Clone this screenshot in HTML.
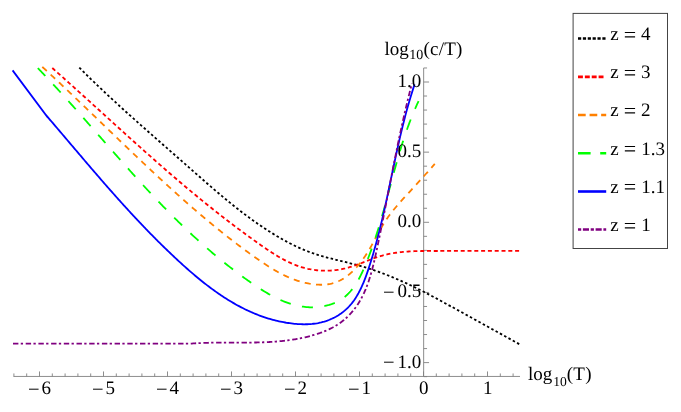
<!DOCTYPE html>
<html><head><meta charset="utf-8"><title>plot</title>
<style>html,body{margin:0;padding:0;background:#fff;}body{width:681px;height:412px;position:relative;overflow:hidden;font-family:"Liberation Serif",serif;}</style>
</head><body>
<svg width="681" height="412" viewBox="0 0 681 412" style="position:absolute;left:0;top:0">
<g stroke="#808080" stroke-width="0.9" fill="none">
<line x1="13.5" y1="376.45" x2="520" y2="376.45"/>
<line x1="423.65" y1="67.97" x2="423.65" y2="376.45"/>
<line x1="13.90" y1="376.45" x2="13.90" y2="373.45"/>
<line x1="26.70" y1="376.45" x2="26.70" y2="373.45"/>
<line x1="39.50" y1="376.45" x2="39.50" y2="371.45"/>
<line x1="52.30" y1="376.45" x2="52.30" y2="373.45"/>
<line x1="65.10" y1="376.45" x2="65.10" y2="373.45"/>
<line x1="77.90" y1="376.45" x2="77.90" y2="373.45"/>
<line x1="90.70" y1="376.45" x2="90.70" y2="373.45"/>
<line x1="103.50" y1="376.45" x2="103.50" y2="371.45"/>
<line x1="116.30" y1="376.45" x2="116.30" y2="373.45"/>
<line x1="129.10" y1="376.45" x2="129.10" y2="373.45"/>
<line x1="141.90" y1="376.45" x2="141.90" y2="373.45"/>
<line x1="154.70" y1="376.45" x2="154.70" y2="373.45"/>
<line x1="167.50" y1="376.45" x2="167.50" y2="371.45"/>
<line x1="180.30" y1="376.45" x2="180.30" y2="373.45"/>
<line x1="193.10" y1="376.45" x2="193.10" y2="373.45"/>
<line x1="205.90" y1="376.45" x2="205.90" y2="373.45"/>
<line x1="218.70" y1="376.45" x2="218.70" y2="373.45"/>
<line x1="231.50" y1="376.45" x2="231.50" y2="371.45"/>
<line x1="244.30" y1="376.45" x2="244.30" y2="373.45"/>
<line x1="257.10" y1="376.45" x2="257.10" y2="373.45"/>
<line x1="269.90" y1="376.45" x2="269.90" y2="373.45"/>
<line x1="282.70" y1="376.45" x2="282.70" y2="373.45"/>
<line x1="295.50" y1="376.45" x2="295.50" y2="371.45"/>
<line x1="308.30" y1="376.45" x2="308.30" y2="373.45"/>
<line x1="321.10" y1="376.45" x2="321.10" y2="373.45"/>
<line x1="333.90" y1="376.45" x2="333.90" y2="373.45"/>
<line x1="346.70" y1="376.45" x2="346.70" y2="373.45"/>
<line x1="359.50" y1="376.45" x2="359.50" y2="371.45"/>
<line x1="372.30" y1="376.45" x2="372.30" y2="373.45"/>
<line x1="385.10" y1="376.45" x2="385.10" y2="373.45"/>
<line x1="397.90" y1="376.45" x2="397.90" y2="373.45"/>
<line x1="410.70" y1="376.45" x2="410.70" y2="373.45"/>
<line x1="423.50" y1="376.45" x2="423.50" y2="371.45"/>
<line x1="436.30" y1="376.45" x2="436.30" y2="373.45"/>
<line x1="449.10" y1="376.45" x2="449.10" y2="373.45"/>
<line x1="461.90" y1="376.45" x2="461.90" y2="373.45"/>
<line x1="474.70" y1="376.45" x2="474.70" y2="373.45"/>
<line x1="487.50" y1="376.45" x2="487.50" y2="371.45"/>
<line x1="500.30" y1="376.45" x2="500.30" y2="373.45"/>
<line x1="513.10" y1="376.45" x2="513.10" y2="373.45"/>
<line x1="423.65" y1="376.63" x2="427.05" y2="376.63"/>
<line x1="423.65" y1="362.60" x2="429.05" y2="362.60"/>
<line x1="423.65" y1="348.57" x2="427.05" y2="348.57"/>
<line x1="423.65" y1="334.54" x2="427.05" y2="334.54"/>
<line x1="423.65" y1="320.51" x2="427.05" y2="320.51"/>
<line x1="423.65" y1="306.48" x2="427.05" y2="306.48"/>
<line x1="423.65" y1="292.45" x2="429.05" y2="292.45"/>
<line x1="423.65" y1="278.42" x2="427.05" y2="278.42"/>
<line x1="423.65" y1="264.39" x2="427.05" y2="264.39"/>
<line x1="423.65" y1="250.36" x2="427.05" y2="250.36"/>
<line x1="423.65" y1="236.33" x2="427.05" y2="236.33"/>
<line x1="423.65" y1="222.30" x2="429.05" y2="222.30"/>
<line x1="423.65" y1="208.27" x2="427.05" y2="208.27"/>
<line x1="423.65" y1="194.24" x2="427.05" y2="194.24"/>
<line x1="423.65" y1="180.21" x2="427.05" y2="180.21"/>
<line x1="423.65" y1="166.18" x2="427.05" y2="166.18"/>
<line x1="423.65" y1="152.15" x2="429.05" y2="152.15"/>
<line x1="423.65" y1="138.12" x2="427.05" y2="138.12"/>
<line x1="423.65" y1="124.09" x2="427.05" y2="124.09"/>
<line x1="423.65" y1="110.06" x2="427.05" y2="110.06"/>
<line x1="423.65" y1="96.03" x2="427.05" y2="96.03"/>
<line x1="423.65" y1="82.00" x2="429.05" y2="82.00"/>
<line x1="423.65" y1="67.97" x2="427.05" y2="67.97"/>
</g>
<path d="M79.30 67.59 L80.11 68.40 L80.91 69.21 L81.72 70.01 L82.52 70.81 L83.33 71.62 L84.14 72.42 L84.94 73.22 L85.75 74.02 L86.56 74.81 L87.37 75.61 L88.18 76.40 L88.99 77.20 L89.80 77.99 L90.61 78.78 L91.42 79.57 L92.23 80.35 L93.04 81.14 L93.86 81.93 L94.67 82.71 L95.48 83.49 L96.30 84.27 L97.11 85.05 L97.93 85.83 L98.74 86.61 L99.56 87.39 L100.37 88.16 L101.19 88.94 L102.01 89.71 L102.83 90.48 L103.64 91.25 L104.46 92.02 L105.28 92.79 L106.10 93.56 L106.92 94.33 L107.74 95.09 L108.56 95.86 L109.38 96.62 L110.20 97.38 L111.02 98.15 L111.84 98.91 L112.67 99.67 L113.49 100.43 L114.31 101.18 L115.13 101.94 L115.96 102.70 L116.78 103.45 L117.61 104.21 L118.43 104.96 L119.26 105.72 L120.08 106.47 L120.91 107.22 L121.73 107.97 L122.56 108.72 L123.39 109.47 L124.21 110.22 L125.04 110.97 L125.87 111.72 L126.70 112.47 L127.52 113.21 L128.35 113.96 L129.18 114.71 L130.01 115.45 L130.84 116.19 L131.67 116.94 L132.50 117.68 L133.33 118.42 L134.16 119.17 L134.99 119.91 L135.82 120.65 L136.65 121.39 L137.49 122.13 L138.32 122.87 L139.15 123.61 L139.98 124.35 L140.82 125.09 L141.65 125.83 L142.48 126.57 L143.32 127.30 L144.15 128.04 L144.98 128.78 L145.82 129.52 L146.65 130.25 L147.49 130.99 L148.32 131.72 L149.16 132.46 L149.99 133.20 L150.83 133.93 L151.66 134.67 L152.50 135.40 L153.34 136.14 L154.17 136.87 L155.01 137.61 L155.85 138.34 L156.68 139.08 L157.52 139.81 L158.36 140.55 L159.19 141.28 L160.03 142.02 L160.87 142.75 L161.71 143.49 L162.55 144.22 L163.38 144.96 L164.22 145.69 L165.06 146.43 L165.90 147.16 L166.74 147.90 L167.58 148.63 L168.42 149.37 L169.26 150.10 L170.10 150.84 L170.94 151.58 L171.78 152.31 L172.62 153.05 L173.46 153.79 L174.30 154.52 L175.14 155.26 L175.98 156.00 L176.82 156.74 L177.66 157.48 L178.50 158.21 L179.34 158.95 L180.18 159.69 L181.02 160.43 L181.86 161.17 L182.71 161.91 L183.55 162.65 L184.39 163.40 L185.23 164.14 L186.07 164.88 L186.91 165.62 L187.75 166.37 L188.60 167.11 L189.44 167.85 L190.28 168.60 L191.12 169.34 L191.97 170.09 L192.81 170.83 L193.65 171.58 L194.50 172.32 L195.34 173.07 L196.18 173.81 L197.03 174.55 L197.87 175.30 L198.72 176.04 L199.56 176.79 L200.41 177.53 L201.26 178.28 L202.10 179.02 L202.95 179.76 L203.80 180.50 L204.65 181.25 L205.50 181.99 L206.35 182.73 L207.20 183.47 L208.05 184.21 L208.90 184.95 L209.75 185.69 L210.60 186.43 L211.46 187.16 L212.31 187.90 L213.17 188.63 L214.02 189.37 L214.88 190.10 L215.74 190.84 L216.60 191.57 L217.46 192.30 L218.32 193.03 L219.18 193.76 L220.04 194.48 L220.90 195.21 L221.76 195.93 L222.63 196.66 L223.50 197.38 L224.36 198.10 L225.23 198.82 L226.10 199.54 L226.97 200.25 L227.84 200.97 L228.71 201.68 L229.58 202.39 L230.46 203.10 L231.33 203.81 L232.21 204.52 L233.09 205.22 L233.97 205.93 L234.85 206.63 L235.73 207.33 L236.61 208.03 L237.50 208.72 L238.38 209.41 L239.27 210.11 L240.16 210.80 L241.05 211.48 L241.94 212.17 L242.83 212.85 L243.73 213.53 L244.62 214.21 L245.52 214.89 L246.42 215.56 L247.32 216.23 L248.22 216.90 L249.12 217.56 L250.03 218.23 L250.94 218.89 L251.84 219.55 L252.75 220.20 L253.66 220.86 L254.58 221.51 L255.49 222.15 L256.41 222.80 L257.33 223.44 L258.25 224.08 L259.17 224.72 L260.10 225.35 L261.02 225.98 L261.95 226.61 L262.88 227.23 L263.81 227.85 L264.74 228.47 L265.68 229.08 L266.62 229.69 L267.56 230.30 L268.50 230.91 L269.44 231.51 L270.39 232.10 L271.33 232.70 L272.28 233.29 L273.24 233.88 L274.19 234.46 L275.15 235.04 L276.10 235.61 L277.06 236.19 L278.03 236.76 L278.99 237.32 L279.96 237.88 L280.93 238.44 L281.90 238.99 L282.88 239.54 L283.85 240.08 L284.83 240.62 L285.81 241.15 L286.80 241.68 L287.78 242.21 L288.77 242.73 L289.76 243.24 L290.76 243.75 L291.75 244.25 L292.75 244.75 L293.76 245.24 L294.76 245.73 L295.77 246.21 L296.78 246.69 L297.79 247.15 L298.80 247.62 L299.82 248.07 L300.84 248.52 L301.87 248.97 L302.89 249.40 L303.92 249.83 L304.96 250.26 L305.99 250.67 L307.03 251.08 L308.07 251.49 L309.11 251.88 L310.16 252.27 L311.21 252.65 L312.26 253.02 L313.32 253.39 L314.38 253.75 L315.44 254.10 L316.51 254.44 L317.57 254.78 L318.64 255.11 L319.72 255.44 L320.79 255.76 L321.87 256.07 L322.95 256.38 L324.03 256.68 L325.11 256.99 L326.19 257.28 L327.28 257.57 L328.36 257.86 L329.45 258.15 L330.54 258.43 L331.63 258.71 L332.73 258.99 L333.82 259.26 L334.91 259.53 L336.01 259.80 L337.10 260.07 L338.20 260.34 L339.29 260.61 L340.39 260.87 L341.49 261.14 L342.58 261.41 L343.68 261.67 L344.77 261.94 L345.87 262.21 L346.97 262.48 L348.06 262.75 L349.16 263.02 L350.25 263.29 L351.34 263.57 L352.43 263.85 L353.53 264.13 L354.62 264.41 L355.70 264.70 L356.79 264.99 L357.88 265.28 L358.96 265.58 L360.04 265.88 L361.12 266.19 L362.20 266.50 L363.28 266.82 L364.35 267.14 L365.43 267.46 L366.50 267.79 L367.57 268.13 L368.64 268.47 L369.70 268.81 L370.77 269.16 L371.83 269.51 L372.89 269.86 L373.95 270.22 L375.01 270.59 L376.07 270.95 L377.12 271.32 L378.18 271.70 L379.23 272.08 L380.28 272.46 L381.33 272.85 L382.38 273.24 L383.42 273.64 L384.47 274.03 L385.51 274.44 L386.55 274.84 L387.59 275.25 L388.63 275.66 L389.67 276.08 L390.71 276.50 L391.74 276.92 L392.77 277.35 L393.81 277.78 L394.84 278.21 L395.87 278.65 L396.90 279.09 L397.92 279.53 L398.95 279.98 L399.97 280.43 L401.00 280.88 L402.02 281.34 L403.04 281.79 L404.06 282.26 L405.08 282.72 L406.09 283.19 L407.11 283.66 L408.13 284.13 L409.14 284.61 L410.15 285.08 L411.16 285.56 L412.18 286.05 L413.19 286.53 L414.19 287.02 L415.20 287.51 L416.21 288.01 L417.21 288.50 L418.22 289.00 L419.22 289.50 L420.23 290.00 L421.23 290.51 L422.23 291.02 L423.23 291.53 L424.23 292.04 L425.23 292.55 L426.23 293.07 L427.22 293.58 L428.22 294.10 L429.21 294.62 L430.21 295.15 L431.20 295.67 L432.20 296.20 L433.19 296.73 L434.18 297.26 L435.17 297.79 L436.16 298.33 L437.15 298.86 L438.14 299.40 L439.13 299.94 L440.12 300.48 L441.10 301.02 L442.09 301.56 L443.08 302.10 L444.06 302.65 L445.05 303.20 L446.03 303.74 L447.01 304.29 L448.00 304.84 L448.98 305.40 L449.96 305.95 L450.00 305.80 L520.10 344.60" fill="none" stroke="#000000" stroke-width="1.8" stroke-dasharray="2.5 2.4"/>
<path d="M52.29 68.02 L53.15 68.78 L54.01 69.54 L54.87 70.30 L55.73 71.06 L56.59 71.82 L57.45 72.59 L58.31 73.35 L59.17 74.11 L60.03 74.88 L60.89 75.64 L61.75 76.41 L62.61 77.18 L63.47 77.94 L64.33 78.71 L65.18 79.48 L66.04 80.25 L66.90 81.02 L67.76 81.79 L68.62 82.56 L69.48 83.33 L70.34 84.10 L71.20 84.87 L72.06 85.64 L72.92 86.42 L73.77 87.19 L74.63 87.96 L75.49 88.74 L76.35 89.51 L77.21 90.28 L78.07 91.06 L78.93 91.83 L79.79 92.61 L80.65 93.39 L81.50 94.16 L82.36 94.94 L83.22 95.72 L84.08 96.49 L84.94 97.27 L85.80 98.05 L86.66 98.83 L87.52 99.61 L88.38 100.38 L89.24 101.16 L90.10 101.94 L90.95 102.72 L91.81 103.50 L92.67 104.28 L93.53 105.06 L94.39 105.84 L95.25 106.62 L96.11 107.40 L96.97 108.18 L97.83 108.96 L98.69 109.75 L99.55 110.53 L100.41 111.31 L101.27 112.09 L102.13 112.87 L102.99 113.65 L103.85 114.43 L104.71 115.22 L105.57 116.00 L106.43 116.78 L107.29 117.56 L108.15 118.34 L109.01 119.12 L109.87 119.91 L110.73 120.69 L111.59 121.47 L112.46 122.25 L113.32 123.03 L114.18 123.81 L115.04 124.60 L115.90 125.38 L116.76 126.16 L117.62 126.94 L118.49 127.72 L119.35 128.50 L120.21 129.28 L121.07 130.06 L121.94 130.84 L122.80 131.62 L123.66 132.40 L124.52 133.18 L125.39 133.96 L126.25 134.74 L127.11 135.52 L127.98 136.30 L128.84 137.08 L129.70 137.86 L130.57 138.64 L131.43 139.42 L132.30 140.20 L133.16 140.97 L134.03 141.75 L134.89 142.53 L135.76 143.31 L136.62 144.08 L137.49 144.86 L138.35 145.63 L139.22 146.41 L140.08 147.18 L140.95 147.96 L141.82 148.73 L142.68 149.51 L143.55 150.28 L144.42 151.05 L145.28 151.83 L146.15 152.60 L147.02 153.37 L147.89 154.14 L148.75 154.91 L149.62 155.68 L150.49 156.45 L151.36 157.22 L152.23 157.99 L153.10 158.76 L153.97 159.53 L154.84 160.29 L155.71 161.06 L156.58 161.83 L157.45 162.59 L158.32 163.36 L159.19 164.12 L160.06 164.89 L160.93 165.65 L161.80 166.41 L162.68 167.17 L163.55 167.93 L164.42 168.69 L165.29 169.45 L166.17 170.21 L167.04 170.97 L167.91 171.73 L168.79 172.49 L169.66 173.24 L170.53 174.00 L171.41 174.75 L172.28 175.51 L173.16 176.26 L174.04 177.01 L174.91 177.77 L175.79 178.52 L176.66 179.27 L177.54 180.02 L178.42 180.77 L179.29 181.51 L180.17 182.26 L181.05 183.01 L181.93 183.75 L182.81 184.50 L183.69 185.24 L184.57 185.98 L185.45 186.72 L186.33 187.46 L187.21 188.20 L188.09 188.94 L188.97 189.68 L189.85 190.42 L190.73 191.15 L191.61 191.89 L192.50 192.62 L193.38 193.35 L194.26 194.09 L195.15 194.82 L196.03 195.55 L196.91 196.28 L197.80 197.01 L198.68 197.73 L199.57 198.46 L200.46 199.18 L201.34 199.91 L202.23 200.63 L203.12 201.36 L204.01 202.08 L204.90 202.80 L205.79 203.52 L206.68 204.24 L207.57 204.96 L208.47 205.67 L209.36 206.39 L210.25 207.11 L211.15 207.82 L212.04 208.54 L212.94 209.25 L213.84 209.96 L214.74 210.67 L215.64 211.39 L216.54 212.10 L217.44 212.81 L218.34 213.51 L219.24 214.22 L220.15 214.93 L221.05 215.64 L221.96 216.34 L222.87 217.05 L223.77 217.75 L224.68 218.45 L225.59 219.16 L226.51 219.86 L227.42 220.56 L228.33 221.26 L229.25 221.96 L230.16 222.66 L231.08 223.36 L232.00 224.06 L232.92 224.76 L233.84 225.45 L234.76 226.15 L235.69 226.84 L236.61 227.54 L237.54 228.23 L238.47 228.93 L239.40 229.62 L240.33 230.31 L241.26 231.00 L242.20 231.69 L243.13 232.39 L244.07 233.08 L245.01 233.76 L245.95 234.45 L246.89 235.14 L247.83 235.83 L248.78 236.52 L249.73 237.20 L250.68 237.89 L251.63 238.58 L252.58 239.26 L253.53 239.95 L254.49 240.63 L255.44 241.31 L256.40 242.00 L257.36 242.68 L258.33 243.36 L259.29 244.04 L260.26 244.72 L261.22 245.40 L262.19 246.08 L263.17 246.76 L264.14 247.43 L265.12 248.10 L266.10 248.77 L267.08 249.43 L268.06 250.09 L269.05 250.75 L270.04 251.40 L271.03 252.05 L272.02 252.69 L273.02 253.32 L274.02 253.95 L275.02 254.58 L276.02 255.19 L277.03 255.80 L278.04 256.41 L279.06 257.00 L280.07 257.59 L281.09 258.16 L282.12 258.73 L283.14 259.29 L284.17 259.84 L285.21 260.38 L286.24 260.91 L287.28 261.43 L288.33 261.94 L289.37 262.43 L290.42 262.92 L291.48 263.39 L292.54 263.85 L293.60 264.29 L294.66 264.73 L295.73 265.15 L296.81 265.55 L297.89 265.94 L298.97 266.32 L300.05 266.68 L301.14 267.03 L302.24 267.36 L303.34 267.67 L304.44 267.97 L305.55 268.26 L306.65 268.52 L307.77 268.78 L308.88 269.01 L310.00 269.24 L311.12 269.44 L312.24 269.63 L313.37 269.81 L314.50 269.97 L315.63 270.11 L316.76 270.24 L317.89 270.36 L319.03 270.45 L320.16 270.54 L321.30 270.60 L322.44 270.65 L323.58 270.69 L324.72 270.71 L325.86 270.71 L327.00 270.70 L328.14 270.68 L329.28 270.63 L330.42 270.58 L331.55 270.50 L332.69 270.41 L333.83 270.31 L334.97 270.19 L336.11 270.05 L337.24 269.90 L338.37 269.74 L339.50 269.55 L340.63 269.36 L341.76 269.14 L342.89 268.91 L344.01 268.67 L345.13 268.41 L346.25 268.13 L347.37 267.84 L348.48 267.54 L349.59 267.21 L350.70 266.88 L351.80 266.53 L352.90 266.17 L354.00 265.80 L355.10 265.41 L356.20 265.02 L357.29 264.62 L358.38 264.22 L359.48 263.81 L360.57 263.39 L361.66 262.97 L362.75 262.54 L363.84 262.12 L364.92 261.69 L366.01 261.26 L367.10 260.84 L368.19 260.41 L369.28 259.99 L370.37 259.57 L371.47 259.16 L372.56 258.76 L373.65 258.36 L374.75 257.96 L375.85 257.58 L376.95 257.21 L378.05 256.85 L379.15 256.50 L380.26 256.16 L381.37 255.84 L382.48 255.53 L383.59 255.23 L384.71 254.95 L385.83 254.67 L386.95 254.42 L388.08 254.17 L389.20 253.94 L390.33 253.71 L391.46 253.50 L392.60 253.30 L393.73 253.11 L394.87 252.93 L396.01 252.76 L397.15 252.60 L398.29 252.45 L399.43 252.31 L400.58 252.18 L401.73 252.05 L402.87 251.94 L404.02 251.83 L405.18 251.73 L406.33 251.64 L407.48 251.56 L408.64 251.48 L409.80 251.41 L410.95 251.35 L412.11 251.29 L413.27 251.24 L414.43 251.19 L415.59 251.15 L416.75 251.12 L417.92 251.09 L419.08 251.06 L420.24 251.04 L421.41 251.02 L422.57 251.00 L423.74 250.99 L424.90 250.98 L426.07 250.98 L427.24 250.97 L428.40 250.97 L429.57 250.97 L430.74 250.97 L431.90 250.98 L433.07 250.98 L434.23 250.99 L435.40 250.99 L436.56 251.00 L437.73 251.00 L438.89 251.01 L440.06 251.01 L440.00 250.80 L520.00 250.80" fill="none" stroke="#ff0000" stroke-width="1.8" stroke-dasharray="4.0 2.8"/>
<path d="M42.28 66.84 L43.25 67.73 L44.22 68.62 L45.19 69.51 L46.16 70.41 L47.12 71.30 L48.09 72.20 L49.06 73.10 L50.03 73.99 L50.99 74.89 L51.96 75.79 L52.93 76.69 L53.89 77.59 L54.86 78.50 L55.82 79.40 L56.79 80.30 L57.75 81.21 L58.72 82.11 L59.68 83.02 L60.65 83.93 L61.61 84.83 L62.57 85.74 L63.54 86.65 L64.50 87.56 L65.46 88.47 L66.42 89.38 L67.39 90.30 L68.35 91.21 L69.31 92.12 L70.27 93.03 L71.23 93.95 L72.19 94.86 L73.15 95.78 L74.12 96.69 L75.08 97.61 L76.04 98.53 L77.00 99.44 L77.96 100.36 L78.92 101.28 L79.88 102.20 L80.84 103.12 L81.80 104.04 L82.76 104.96 L83.72 105.88 L84.68 106.80 L85.63 107.72 L86.59 108.64 L87.55 109.56 L88.51 110.48 L89.47 111.41 L90.43 112.33 L91.39 113.25 L92.35 114.17 L93.31 115.10 L94.27 116.02 L95.23 116.94 L96.18 117.87 L97.14 118.79 L98.10 119.72 L99.06 120.64 L100.02 121.56 L100.98 122.49 L101.94 123.41 L102.90 124.34 L103.86 125.26 L104.82 126.19 L105.78 127.11 L106.74 128.04 L107.70 128.96 L108.66 129.89 L109.62 130.81 L110.58 131.73 L111.54 132.66 L112.50 133.58 L113.46 134.51 L114.42 135.43 L115.38 136.36 L116.34 137.28 L117.30 138.20 L118.26 139.13 L119.22 140.05 L120.19 140.98 L121.15 141.90 L122.11 142.82 L123.07 143.74 L124.03 144.67 L125.00 145.59 L125.96 146.51 L126.92 147.43 L127.89 148.35 L128.85 149.27 L129.82 150.20 L130.78 151.12 L131.74 152.04 L132.71 152.95 L133.68 153.87 L134.64 154.79 L135.61 155.71 L136.57 156.63 L137.54 157.55 L138.51 158.46 L139.47 159.38 L140.44 160.29 L141.41 161.21 L142.38 162.12 L143.35 163.04 L144.32 163.95 L145.29 164.86 L146.26 165.78 L147.23 166.69 L148.20 167.60 L149.17 168.51 L150.14 169.42 L151.11 170.33 L152.08 171.24 L153.06 172.15 L154.03 173.05 L155.00 173.96 L155.98 174.86 L156.95 175.77 L157.93 176.67 L158.91 177.58 L159.88 178.48 L160.86 179.38 L161.84 180.28 L162.81 181.18 L163.79 182.08 L164.77 182.98 L165.75 183.87 L166.73 184.77 L167.71 185.67 L168.69 186.56 L169.68 187.45 L170.66 188.35 L171.64 189.24 L172.63 190.13 L173.61 191.02 L174.60 191.91 L175.58 192.79 L176.57 193.68 L177.55 194.56 L178.54 195.45 L179.53 196.33 L180.52 197.21 L181.51 198.09 L182.50 198.97 L183.49 199.85 L184.48 200.73 L185.48 201.60 L186.47 202.48 L187.46 203.35 L188.46 204.22 L189.45 205.09 L190.45 205.96 L191.45 206.83 L192.44 207.70 L193.44 208.56 L194.44 209.43 L195.44 210.29 L196.44 211.15 L197.44 212.01 L198.45 212.87 L199.45 213.73 L200.45 214.59 L201.46 215.44 L202.46 216.29 L203.47 217.14 L204.48 217.99 L205.49 218.84 L206.50 219.69 L207.51 220.54 L208.52 221.38 L209.53 222.22 L210.54 223.06 L211.56 223.90 L212.58 224.74 L213.59 225.58 L214.61 226.41 L215.63 227.25 L216.65 228.08 L217.68 228.91 L218.70 229.74 L219.73 230.57 L220.75 231.39 L221.78 232.22 L222.81 233.04 L223.84 233.86 L224.87 234.68 L225.91 235.50 L226.95 236.32 L227.98 237.13 L229.02 237.95 L230.06 238.76 L231.11 239.57 L232.15 240.38 L233.20 241.19 L234.25 241.99 L235.30 242.80 L236.35 243.60 L237.40 244.40 L238.46 245.20 L239.52 246.00 L240.58 246.80 L241.64 247.59 L242.70 248.39 L243.77 249.18 L244.84 249.97 L245.91 250.76 L246.98 251.54 L248.06 252.33 L249.14 253.11 L250.22 253.90 L251.30 254.68 L252.38 255.45 L253.47 256.23 L254.56 257.01 L255.65 257.78 L256.75 258.55 L257.85 259.32 L258.95 260.09 L260.05 260.85 L261.16 261.61 L262.27 262.36 L263.38 263.11 L264.50 263.85 L265.62 264.59 L266.74 265.32 L267.87 266.04 L269.00 266.76 L270.14 267.47 L271.28 268.18 L272.43 268.87 L273.57 269.56 L274.73 270.23 L275.89 270.90 L277.05 271.56 L278.22 272.20 L279.39 272.84 L280.57 273.46 L281.76 274.07 L282.95 274.68 L284.14 275.26 L285.35 275.84 L286.55 276.40 L287.77 276.95 L288.99 277.48 L290.21 278.00 L291.44 278.50 L292.68 278.99 L293.93 279.47 L295.18 279.92 L296.44 280.36 L297.70 280.78 L298.98 281.19 L300.26 281.57 L301.54 281.94 L302.84 282.29 L304.14 282.62 L305.45 282.93 L306.77 283.22 L308.09 283.48 L309.41 283.73 L310.74 283.95 L312.07 284.14 L313.40 284.31 L314.73 284.46 L316.06 284.57 L317.39 284.66 L318.72 284.72 L320.04 284.75 L321.36 284.75 L322.67 284.72 L323.98 284.65 L325.28 284.55 L326.58 284.42 L327.86 284.26 L329.13 284.05 L330.39 283.81 L331.64 283.53 L332.88 283.22 L334.11 282.86 L335.31 282.47 L336.51 282.03 L337.69 281.55 L338.85 281.04 L340.00 280.49 L341.13 279.90 L342.25 279.28 L343.35 278.62 L344.44 277.93 L345.51 277.21 L346.57 276.46 L347.61 275.68 L348.64 274.87 L349.66 274.04 L350.66 273.17 L351.64 272.29 L352.61 271.37 L353.57 270.44 L354.51 269.48 L355.44 268.51 L356.36 267.51 L357.25 266.50 L358.14 265.46 L359.01 264.42 L359.87 263.35 L360.71 262.27 L361.54 261.18 L362.36 260.08 L363.16 258.97 L363.95 257.85 L364.72 256.72 L365.49 255.58 L366.23 254.43 L366.97 253.29 L367.69 252.13 L368.40 250.97 L369.09 249.82 L369.78 248.65 L370.45 247.49 L371.11 246.33 L371.77 245.16 L372.42 244.00 L373.06 242.83 L373.69 241.67 L374.32 240.50 L374.95 239.34 L375.57 238.17 L376.20 237.01 L376.82 235.85 L377.44 234.70 L378.07 233.54 L378.69 232.39 L379.32 231.25 L379.95 230.10 L380.59 228.97 L381.24 227.83 L381.89 226.70 L382.55 225.58 L383.22 224.46 L383.90 223.35 L384.60 222.24 L385.30 221.15 L386.02 220.06 L386.75 218.97 L387.49 217.90 L388.25 216.83 L389.02 215.77 L389.80 214.71 L390.60 213.66 L391.40 212.62 L392.22 211.58 L393.05 210.55 L393.88 209.52 L394.72 208.50 L395.57 207.48 L396.43 206.46 L397.30 205.45 L398.17 204.44 L399.05 203.44 L399.93 202.44 L400.82 201.44 L401.72 200.44 L402.61 199.45 L403.51 198.46 L404.41 197.47 L405.32 196.47 L406.22 195.49 L407.13 194.50 L408.04 193.51 L408.94 192.52 L409.85 191.53 L410.76 190.54 L411.66 189.55 L412.57 188.57 L413.47 187.58 L414.38 186.59 L415.28 185.60 L416.18 184.61 L417.09 183.63 L417.99 182.64 L418.89 181.65 L419.79 180.66 L420.68 179.68 L421.58 178.69 L422.47 177.70 L423.37 176.72 L424.26 175.73 L425.15 174.75 L426.03 173.76 L426.92 172.78 L427.80 171.79 L428.68 170.81 L429.56 169.82 L430.44 168.84 L431.31 167.86 L432.19 166.88 L433.05 165.89 L433.92 164.91 L434.78 163.93" fill="none" stroke="#ff8000" stroke-width="1.8" stroke-dasharray="6.1 5.3"/>
<path d="M37.79 68.02 L38.87 69.15 L39.95 70.28 L41.03 71.41 L42.10 72.54 L43.17 73.67 L44.24 74.80 L45.31 75.93 L46.38 77.06 L47.45 78.20 L48.51 79.34 L49.57 80.47 L50.63 81.61 L51.69 82.75 L52.75 83.89 L53.80 85.03 L54.86 86.17 L55.91 87.32 L56.96 88.46 L58.01 89.61 L59.06 90.75 L60.10 91.90 L61.15 93.04 L62.19 94.19 L63.23 95.34 L64.27 96.49 L65.31 97.64 L66.35 98.79 L67.39 99.94 L68.43 101.09 L69.46 102.25 L70.49 103.40 L71.53 104.55 L72.56 105.71 L73.59 106.86 L74.62 108.02 L75.65 109.17 L76.68 110.33 L77.70 111.48 L78.73 112.64 L79.75 113.80 L80.78 114.95 L81.80 116.11 L82.82 117.27 L83.85 118.43 L84.87 119.58 L85.89 120.74 L86.91 121.90 L87.93 123.06 L88.95 124.22 L89.97 125.38 L90.99 126.54 L92.00 127.69 L93.02 128.85 L94.04 130.01 L95.06 131.17 L96.07 132.33 L97.09 133.49 L98.11 134.65 L99.12 135.80 L100.14 136.96 L101.15 138.12 L102.17 139.28 L103.18 140.43 L104.20 141.59 L105.21 142.75 L106.23 143.90 L107.24 145.06 L108.26 146.22 L109.28 147.37 L110.29 148.53 L111.31 149.68 L112.32 150.84 L113.34 151.99 L114.36 153.14 L115.37 154.29 L116.39 155.45 L117.41 156.60 L118.43 157.75 L119.44 158.90 L120.46 160.05 L121.48 161.20 L122.50 162.35 L123.52 163.49 L124.54 164.64 L125.57 165.78 L126.59 166.93 L127.61 168.07 L128.64 169.22 L129.66 170.36 L130.69 171.50 L131.71 172.64 L132.74 173.78 L133.77 174.92 L134.80 176.06 L135.83 177.19 L136.86 178.33 L137.89 179.46 L138.92 180.60 L139.96 181.73 L140.99 182.86 L142.03 183.99 L143.06 185.12 L144.10 186.24 L145.14 187.37 L146.18 188.49 L147.23 189.62 L148.27 190.74 L149.32 191.86 L150.36 192.98 L151.41 194.10 L152.46 195.21 L153.51 196.33 L154.56 197.44 L155.62 198.56 L156.67 199.67 L157.73 200.77 L158.79 201.88 L159.85 202.99 L160.91 204.09 L161.98 205.19 L163.04 206.30 L164.11 207.39 L165.18 208.49 L166.25 209.59 L167.32 210.68 L168.40 211.77 L169.48 212.86 L170.56 213.95 L171.64 215.04 L172.72 216.12 L173.81 217.20 L174.89 218.29 L175.98 219.36 L177.08 220.44 L178.17 221.52 L179.27 222.59 L180.37 223.66 L181.47 224.73 L182.57 225.79 L183.68 226.86 L184.78 227.92 L185.90 228.98 L187.01 230.04 L188.12 231.09 L189.24 232.14 L190.36 233.20 L191.49 234.24 L192.61 235.29 L193.74 236.33 L194.88 237.37 L196.01 238.41 L197.15 239.45 L198.29 240.48 L199.43 241.51 L200.58 242.54 L201.72 243.57 L202.88 244.59 L204.03 245.61 L205.19 246.63 L206.35 247.65 L207.51 248.66 L208.68 249.67 L209.85 250.68 L211.02 251.69 L212.20 252.69 L213.38 253.69 L214.56 254.68 L215.75 255.68 L216.94 256.67 L218.13 257.66 L219.33 258.64 L220.53 259.62 L221.73 260.60 L222.94 261.58 L224.15 262.55 L225.36 263.52 L226.58 264.49 L227.80 265.45 L229.02 266.41 L230.25 267.37 L231.48 268.33 L232.72 269.28 L233.96 270.23 L235.20 271.17 L236.45 272.11 L237.70 273.05 L238.96 273.98 L240.21 274.92 L241.48 275.84 L242.74 276.77 L244.02 277.69 L245.29 278.61 L246.57 279.52 L247.85 280.43 L249.14 281.34 L250.43 282.25 L251.73 283.15 L253.03 284.04 L254.33 284.93 L255.64 285.82 L256.95 286.69 L258.27 287.56 L259.60 288.43 L260.92 289.28 L262.26 290.12 L263.59 290.95 L264.93 291.77 L266.28 292.58 L267.63 293.38 L268.99 294.16 L270.35 294.92 L271.72 295.67 L273.10 296.41 L274.47 297.13 L275.86 297.83 L277.25 298.51 L278.64 299.17 L280.05 299.81 L281.45 300.44 L282.87 301.04 L284.28 301.61 L285.71 302.17 L287.14 302.70 L288.58 303.20 L290.02 303.68 L291.47 304.14 L292.93 304.56 L294.39 304.96 L295.86 305.33 L297.33 305.67 L298.82 305.98 L300.31 306.26 L301.80 306.51 L303.30 306.72 L304.81 306.90 L306.33 307.05 L307.86 307.16 L309.39 307.24 L310.92 307.28 L312.47 307.28 L314.02 307.25 L315.57 307.18 L317.12 307.07 L318.67 306.92 L320.21 306.74 L321.75 306.51 L323.28 306.25 L324.81 305.95 L326.32 305.60 L327.82 305.22 L329.30 304.80 L330.77 304.33 L332.21 303.83 L333.64 303.29 L335.04 302.70 L336.42 302.07 L337.77 301.40 L339.10 300.69 L340.39 299.93 L341.65 299.13 L342.88 298.29 L344.07 297.41 L345.22 296.48 L346.34 295.52 L347.43 294.51 L348.49 293.47 L349.51 292.39 L350.51 291.28 L351.47 290.13 L352.41 288.96 L353.32 287.75 L354.21 286.52 L355.07 285.26 L355.90 283.97 L356.72 282.67 L357.51 281.34 L358.28 279.99 L359.03 278.62 L359.76 277.24 L360.48 275.84 L361.18 274.43 L361.86 273.00 L362.53 271.57 L363.18 270.13 L363.83 268.67 L364.46 267.22 L365.08 265.76 L365.69 264.29 L366.29 262.83 L366.89 261.36 L367.48 259.89 L368.06 258.43 L368.63 256.96 L369.19 255.49 L369.75 254.02 L370.30 252.55 L370.84 251.08 L371.38 249.60 L371.91 248.13 L372.44 246.66 L372.95 245.18 L373.46 243.71 L373.97 242.23 L374.47 240.75 L374.96 239.28 L375.45 237.80 L375.93 236.32 L376.41 234.84 L376.88 233.36 L377.35 231.88 L377.81 230.40 L378.27 228.92 L378.73 227.44 L379.18 225.96 L379.62 224.48 L380.06 223.00 L380.50 221.51 L380.94 220.03 L381.37 218.55 L381.79 217.07 L382.22 215.58 L382.64 214.10 L383.06 212.62 L383.47 211.13 L383.89 209.65 L384.30 208.16 L384.71 206.68 L385.11 205.20 L385.52 203.71 L385.92 202.23 L386.32 200.74 L386.72 199.26 L387.12 197.77 L387.52 196.29 L387.92 194.81 L388.31 193.32 L388.71 191.84 L389.10 190.35 L389.50 188.87 L389.89 187.39 L390.29 185.91 L390.68 184.42 L391.08 182.94 L391.47 181.46 L391.87 179.98 L392.26 178.49 L392.66 177.01 L393.06 175.53 L393.46 174.05 L393.86 172.57 L394.26 171.09 L394.67 169.61 L395.08 168.14 L395.48 166.66 L395.90 165.18 L396.31 163.70 L396.73 162.23 L397.14 160.75 L397.57 159.28 L397.99 157.80 L398.42 156.33 L398.85 154.86 L399.28 153.39 L399.72 151.91 L400.16 150.44 L400.61 148.97 L401.06 147.51 L401.51 146.04 L401.97 144.57 L402.43 143.10 L402.90 141.64 L403.37 140.17 L403.85 138.71 L404.33 137.25 L404.82 135.79 L405.32 134.33 L405.82 132.87 L406.32 131.41 L406.83 129.95 L407.35 128.50 L407.87 127.04 L408.40 125.59 L408.94 124.14 L409.48 122.68 L410.04 121.23 L410.59 119.79 L411.16 118.34 L411.73 116.89 L412.31 115.45 L412.90 114.00 L413.49 112.56 L414.10 111.12 L414.71 109.68 L415.33 108.24 L415.96 106.81 L416.60 105.37 L417.24 103.94 L417.90 102.51 L418.56 101.08" fill="none" stroke="#00ff00" stroke-width="1.8" stroke-dasharray="11 11.5"/>
<path d="M12.60 70.40 L46.30 115.50 L46.30 115.46 L47.34 116.67 L48.37 117.88 L49.40 119.08 L50.44 120.29 L51.47 121.49 L52.50 122.70 L53.52 123.90 L54.55 125.11 L55.58 126.31 L56.60 127.51 L57.62 128.71 L58.65 129.92 L59.67 131.12 L60.69 132.32 L61.71 133.52 L62.73 134.72 L63.75 135.92 L64.77 137.12 L65.78 138.31 L66.80 139.51 L67.82 140.71 L68.83 141.91 L69.85 143.10 L70.86 144.30 L71.88 145.49 L72.89 146.68 L73.90 147.88 L74.91 149.07 L75.93 150.26 L76.94 151.45 L77.95 152.64 L78.96 153.83 L79.97 155.02 L80.99 156.21 L82.00 157.40 L83.01 158.58 L84.02 159.77 L85.03 160.96 L86.04 162.14 L87.05 163.32 L88.06 164.51 L89.08 165.69 L90.09 166.87 L91.10 168.05 L92.11 169.23 L93.12 170.41 L94.14 171.58 L95.15 172.76 L96.16 173.94 L97.18 175.11 L98.19 176.28 L99.21 177.46 L100.22 178.63 L101.24 179.80 L102.26 180.97 L103.27 182.14 L104.29 183.31 L105.31 184.47 L106.33 185.64 L107.35 186.80 L108.37 187.97 L109.40 189.13 L110.42 190.29 L111.44 191.45 L112.47 192.61 L113.49 193.77 L114.52 194.93 L115.55 196.08 L116.58 197.24 L117.61 198.39 L118.64 199.55 L119.68 200.70 L120.71 201.85 L121.75 203.00 L122.78 204.14 L123.82 205.29 L124.86 206.44 L125.91 207.58 L126.95 208.72 L127.99 209.87 L129.04 211.01 L130.09 212.14 L131.14 213.28 L132.19 214.42 L133.24 215.55 L134.30 216.69 L135.35 217.82 L136.41 218.95 L137.47 220.08 L138.54 221.21 L139.60 222.34 L140.67 223.46 L141.73 224.58 L142.81 225.71 L143.88 226.83 L144.95 227.95 L146.03 229.07 L147.11 230.18 L148.19 231.30 L149.27 232.41 L150.36 233.52 L151.45 234.63 L152.54 235.74 L153.63 236.85 L154.73 237.96 L155.83 239.06 L156.93 240.16 L158.03 241.27 L159.14 242.37 L160.25 243.46 L161.36 244.56 L162.47 245.65 L163.59 246.75 L164.71 247.84 L165.83 248.93 L166.96 250.02 L168.09 251.10 L169.22 252.19 L170.35 253.27 L171.49 254.35 L172.63 255.43 L173.77 256.51 L174.92 257.59 L176.07 258.66 L177.22 259.73 L178.38 260.80 L179.54 261.87 L180.70 262.94 L181.87 264.00 L183.04 265.06 L184.21 266.11 L185.39 267.17 L186.57 268.22 L187.76 269.26 L188.94 270.31 L190.14 271.35 L191.33 272.38 L192.53 273.41 L193.73 274.43 L194.94 275.45 L196.15 276.47 L197.36 277.48 L198.58 278.49 L199.80 279.48 L201.03 280.48 L202.26 281.47 L203.50 282.45 L204.73 283.42 L205.98 284.39 L207.22 285.35 L208.48 286.31 L209.73 287.25 L210.99 288.19 L212.26 289.13 L213.53 290.05 L214.80 290.97 L216.08 291.88 L217.36 292.78 L218.65 293.67 L219.94 294.56 L221.24 295.43 L222.54 296.30 L223.84 297.15 L225.15 298.00 L226.47 298.84 L227.79 299.66 L229.12 300.48 L230.45 301.29 L231.78 302.09 L233.12 302.87 L234.47 303.65 L235.82 304.41 L237.18 305.17 L238.54 305.91 L239.90 306.64 L241.28 307.36 L242.65 308.07 L244.04 308.76 L245.42 309.44 L246.82 310.11 L248.22 310.77 L249.62 311.41 L251.03 312.05 L252.45 312.66 L253.87 313.27 L255.30 313.86 L256.73 314.44 L258.17 315.00 L259.61 315.55 L261.06 316.08 L262.52 316.60 L263.98 317.11 L265.45 317.60 L266.93 318.07 L268.41 318.53 L269.89 318.97 L271.39 319.40 L272.88 319.81 L274.39 320.21 L275.90 320.59 L277.42 320.95 L278.94 321.29 L280.47 321.62 L282.01 321.93 L283.55 322.23 L285.10 322.51 L286.66 322.77 L288.22 323.01 L289.79 323.23 L291.37 323.43 L292.95 323.62 L294.54 323.78 L296.13 323.93 L297.73 324.05 L299.32 324.14 L300.92 324.21 L302.52 324.26 L304.11 324.28 L305.71 324.27 L307.30 324.23 L308.89 324.16 L310.48 324.05 L312.06 323.92 L313.63 323.75 L315.20 323.55 L316.76 323.31 L318.31 323.03 L319.85 322.71 L321.38 322.36 L322.90 321.96 L324.40 321.53 L325.90 321.06 L327.37 320.55 L328.83 320.00 L330.27 319.42 L331.70 318.80 L333.10 318.14 L334.48 317.45 L335.84 316.72 L337.18 315.95 L338.49 315.16 L339.78 314.32 L341.04 313.46 L342.27 312.56 L343.47 311.63 L344.64 310.67 L345.78 309.67 L346.89 308.65 L347.96 307.59 L349.00 306.51 L350.01 305.39 L351.00 304.25 L351.95 303.08 L352.87 301.89 L353.77 300.67 L354.64 299.43 L355.48 298.16 L356.30 296.88 L357.10 295.57 L357.87 294.24 L358.62 292.90 L359.34 291.53 L360.05 290.15 L360.74 288.76 L361.41 287.35 L362.06 285.92 L362.69 284.48 L363.31 283.03 L363.91 281.57 L364.50 280.10 L365.07 278.62 L365.63 277.13 L366.18 275.64 L366.71 274.14 L367.24 272.63 L367.76 271.12 L368.27 269.60 L368.77 268.09 L369.26 266.57 L369.75 265.05 L370.23 263.53 L370.70 262.01 L371.17 260.49 L371.64 258.97 L372.10 257.45 L372.55 255.93 L373.00 254.41 L373.45 252.89 L373.89 251.37 L374.32 249.85 L374.75 248.33 L375.18 246.81 L375.60 245.29 L376.01 243.77 L376.42 242.25 L376.83 240.73 L377.23 239.21 L377.63 237.69 L378.03 236.17 L378.42 234.65 L378.81 233.13 L379.19 231.61 L379.57 230.09 L379.95 228.57 L380.32 227.05 L380.69 225.53 L381.06 224.01 L381.43 222.49 L381.79 220.97 L382.15 219.45 L382.50 217.93 L382.85 216.41 L383.20 214.88 L383.55 213.36 L383.90 211.84 L384.24 210.32 L384.58 208.80 L384.92 207.28 L385.26 205.76 L385.59 204.24 L385.93 202.72 L386.26 201.20 L386.59 199.68 L386.92 198.16 L387.25 196.64 L387.57 195.12 L387.90 193.60 L388.22 192.07 L388.54 190.55 L388.86 189.03 L389.19 187.51 L389.51 185.99 L389.83 184.47 L390.15 182.95 L390.46 181.43 L390.78 179.91 L391.10 178.39 L391.42 176.87 L391.74 175.35 L392.06 173.83 L392.38 172.31 L392.69 170.79 L393.01 169.27 L393.33 167.75 L393.65 166.23 L393.98 164.71 L394.30 163.19 L394.62 161.67 L394.94 160.15 L395.27 158.64 L395.60 157.12 L395.92 155.60 L396.25 154.08 L396.58 152.56 L396.91 151.04 L397.25 149.52 L397.58 148.00 L397.92 146.49 L398.26 144.97 L398.60 143.45 L398.94 141.93 L399.29 140.41 L399.64 138.89 L399.99 137.38 L400.34 135.86 L400.70 134.34 L401.06 132.82 L401.42 131.31 L401.78 129.79 L402.15 128.27 L402.52 126.76 L402.89 125.24 L403.27 123.72 L403.65 122.21 L404.04 120.69 L404.42 119.18 L404.82 117.66 L405.21 116.14 L405.61 114.63 L406.01 113.11 L406.42 111.60 L406.83 110.08 L407.25 108.57 L407.67 107.05 L408.10 105.54 L408.53 104.03 L408.96 102.51 L409.40 101.00 L409.85 99.48 L410.30 97.97 L410.75 96.46 L411.21 94.94 L411.68 93.43 L412.15 91.92 L412.62 90.41 L413.10 88.89 L413.59 87.38 L414.09 85.87 L414.59 84.36" fill="none" stroke="#0000ff" stroke-width="1.8"/>
<path d="M13.00 343.60 L190.00 343.60 L190.03 343.68 L191.03 343.60 L192.03 343.53 L193.02 343.46 L194.02 343.39 L195.02 343.33 L196.03 343.27 L197.03 343.21 L198.03 343.16 L199.04 343.11 L200.04 343.06 L201.05 343.02 L202.06 342.97 L203.07 342.94 L204.07 342.90 L205.08 342.87 L206.10 342.84 L207.11 342.81 L208.12 342.78 L209.13 342.76 L210.15 342.74 L211.16 342.72 L212.18 342.70 L213.19 342.68 L214.21 342.67 L215.23 342.66 L216.25 342.65 L217.27 342.64 L218.29 342.63 L219.31 342.62 L220.33 342.62 L221.35 342.61 L222.37 342.61 L223.39 342.61 L224.42 342.61 L225.44 342.61 L226.46 342.61 L227.49 342.61 L228.51 342.61 L229.54 342.61 L230.56 342.61 L231.59 342.61 L232.61 342.62 L233.64 342.62 L234.67 342.62 L235.69 342.62 L236.72 342.62 L237.75 342.63 L238.78 342.63 L239.80 342.63 L240.83 342.63 L241.86 342.62 L242.89 342.62 L243.92 342.62 L244.95 342.62 L245.97 342.61 L247.00 342.60 L248.03 342.60 L249.06 342.59 L250.09 342.58 L251.12 342.57 L252.15 342.55 L253.18 342.54 L254.21 342.52 L255.23 342.50 L256.26 342.48 L257.29 342.46 L258.32 342.43 L259.35 342.40 L260.38 342.37 L261.40 342.34 L262.43 342.31 L263.46 342.27 L264.49 342.23 L265.51 342.18 L266.54 342.14 L267.56 342.09 L268.59 342.04 L269.62 341.98 L270.64 341.92 L271.67 341.86 L272.69 341.79 L273.71 341.72 L274.74 341.65 L275.76 341.57 L276.78 341.49 L277.81 341.41 L278.83 341.32 L279.85 341.22 L280.87 341.13 L281.89 341.03 L282.91 340.92 L283.93 340.81 L284.94 340.69 L285.96 340.57 L286.98 340.45 L287.99 340.32 L289.01 340.18 L290.02 340.04 L291.04 339.90 L292.05 339.75 L293.06 339.59 L294.07 339.43 L295.08 339.27 L296.09 339.09 L297.10 338.92 L298.11 338.73 L299.12 338.54 L300.12 338.35 L301.13 338.15 L302.13 337.94 L303.14 337.73 L304.14 337.50 L305.14 337.28 L306.14 337.04 L307.14 336.80 L308.14 336.56 L309.13 336.30 L310.13 336.04 L311.12 335.78 L312.12 335.50 L313.11 335.22 L314.10 334.93 L315.09 334.63 L316.07 334.33 L317.05 334.01 L318.03 333.69 L319.01 333.36 L319.98 333.02 L320.95 332.67 L321.91 332.32 L322.87 331.95 L323.83 331.58 L324.78 331.19 L325.73 330.80 L326.67 330.39 L327.60 329.98 L328.53 329.55 L329.45 329.12 L330.37 328.67 L331.28 328.21 L332.18 327.74 L333.08 327.27 L333.97 326.77 L334.85 326.27 L335.72 325.76 L336.59 325.23 L337.44 324.69 L338.29 324.14 L339.13 323.58 L339.96 323.01 L340.78 322.42 L341.59 321.82 L342.39 321.20 L343.18 320.58 L343.96 319.94 L344.73 319.29 L345.49 318.63 L346.24 317.96 L346.98 317.28 L347.70 316.58 L348.42 315.88 L349.13 315.17 L349.83 314.44 L350.51 313.71 L351.19 312.97 L351.85 312.21 L352.50 311.45 L353.15 310.68 L353.78 309.90 L354.39 309.12 L355.00 308.32 L355.60 307.52 L356.18 306.71 L356.75 305.89 L357.31 305.06 L357.86 304.23 L358.40 303.39 L358.93 302.54 L359.45 301.69 L359.96 300.83 L360.46 299.96 L360.95 299.09 L361.42 298.21 L361.89 297.32 L362.35 296.43 L362.80 295.53 L363.25 294.62 L363.68 293.71 L364.10 292.80 L364.52 291.88 L364.92 290.95 L365.32 290.02 L365.71 289.08 L366.10 288.14 L366.47 287.20 L366.84 286.25 L367.20 285.29 L367.56 284.33 L367.90 283.37 L368.24 282.41 L368.58 281.43 L368.91 280.46 L369.23 279.48 L369.54 278.50 L369.85 277.52 L370.16 276.53 L370.45 275.54 L370.75 274.55 L371.03 273.55 L371.32 272.55 L371.60 271.55 L371.87 270.55 L372.14 269.54 L372.40 268.53 L372.66 267.52 L372.92 266.51 L373.17 265.50 L373.42 264.49 L373.67 263.47 L373.91 262.45 L374.15 261.44 L374.39 260.42 L374.63 259.40 L374.86 258.38 L375.09 257.36 L375.32 256.34 L375.54 255.31 L375.77 254.29 L375.99 253.27 L376.21 252.25 L376.43 251.23 L376.65 250.21 L376.87 249.19 L377.08 248.17 L377.30 247.15 L377.52 246.14 L377.73 245.12 L377.94 244.10 L378.16 243.09 L378.37 242.07 L378.58 241.06 L378.79 240.05 L379.00 239.03 L379.21 238.02 L379.42 237.01 L379.63 236.00 L379.84 234.99 L380.05 233.98 L380.25 232.97 L380.46 231.96 L380.66 230.95 L380.87 229.94 L381.07 228.94 L381.28 227.93 L381.48 226.92 L381.68 225.92 L381.89 224.91 L382.09 223.91 L382.29 222.90 L382.49 221.90 L382.69 220.90 L382.89 219.89 L383.09 218.89 L383.29 217.89 L383.49 216.89 L383.69 215.89 L383.88 214.89 L384.08 213.89 L384.28 212.89 L384.48 211.89 L384.67 210.89 L384.87 209.89 L385.06 208.89 L385.26 207.89 L385.46 206.90 L385.65 205.90 L385.85 204.90 L386.04 203.91 L386.24 202.91 L386.43 201.91 L386.62 200.92 L386.82 199.92 L387.01 198.93 L387.21 197.94 L387.40 196.94 L387.59 195.95 L387.79 194.95 L387.98 193.96 L388.17 192.97 L388.37 191.97 L388.56 190.98 L388.75 189.99 L388.95 189.00 L389.14 188.00 L389.33 187.01 L389.52 186.02 L389.72 185.03 L389.91 184.04 L390.10 183.05 L390.30 182.06 L390.49 181.07 L390.68 180.08 L390.88 179.09 L391.07 178.09 L391.26 177.10 L391.46 176.11 L391.65 175.12 L391.85 174.14 L392.04 173.15 L392.23 172.16 L392.43 171.17 L392.62 170.18 L392.82 169.19 L393.01 168.20 L393.21 167.21 L393.41 166.22 L393.60 165.23 L393.80 164.24 L394.00 163.25 L394.19 162.26 L394.39 161.27 L394.59 160.29 L394.79 159.30 L394.99 158.31 L395.18 157.32 L395.38 156.33 L395.58 155.34 L395.78 154.35 L395.98 153.36 L396.19 152.37 L396.39 151.38 L396.59 150.39 L396.79 149.40 L397.00 148.41 L397.20 147.42 L397.40 146.43 L397.61 145.44 L397.81 144.45 L398.02 143.46 L398.23 142.47 L398.43 141.48 L398.64 140.49 L398.85 139.50 L399.06 138.51 L399.27 137.52 L399.48 136.53 L399.69 135.54 L399.90 134.54 L400.11 133.55 L400.33 132.56 L400.54 131.57 L400.75 130.57 L400.97 129.58 L401.19 128.59 L401.40 127.60 L401.62 126.60 L401.84 125.61 L402.06 124.61 L402.28 123.62 L402.50 122.62 L402.72 121.63 L402.94 120.63 L403.17 119.64 L403.39 118.64 L403.62 117.64 L403.84 116.65 L404.07 115.65 L404.30 114.65 L404.53 113.66 L404.76 112.66 L404.99 111.66 L405.22 110.66 L405.46 109.66 L405.69 108.66 L405.93 107.66 L406.16 106.66 L406.40 105.66 L406.64 104.66 L406.88 103.66 L407.12 102.65 L407.36 101.65 L407.60 100.65 L407.85 99.64 L408.09 98.64 L408.34 97.63 L408.59 96.63 L408.84 95.62 L409.09 94.62 L409.34 93.61 L409.59 92.60 L409.85 91.59 L410.10 90.59 L410.36 89.58 L410.62 88.57 L410.87 87.56 L411.13 86.55 L411.40 85.54 L411.66 84.52 L411.92 83.51" fill="none" stroke="#800080" stroke-width="1.8" stroke-dasharray="5.4 2.35 2.3 2.65"/>
<rect x="573.1" y="13.4" width="94.4" height="235.1" fill="#fff" stroke="#444" stroke-width="1"/>
<line x1="578" y1="38.45" x2="606.2" y2="38.45" stroke="#000000" stroke-width="2.6" stroke-dasharray="3.2 1.67"/>
<line x1="578" y1="76.9" x2="604.3" y2="76.9" stroke="#ff0000" stroke-width="2.6" stroke-dasharray="4.9 1.97"/>
<line x1="578" y1="115.0" x2="606.2" y2="115.0" stroke="#ff8000" stroke-width="2.6" stroke-dasharray="7.7 3.87"/>
<line x1="578" y1="153.2" x2="606.2" y2="153.2" stroke="#00ff00" stroke-width="2.6" stroke-dasharray="12.6 9.6"/>
<line x1="578" y1="191.5" x2="606.2" y2="191.5" stroke="#0000ff" stroke-width="2.6"/>
<line x1="578" y1="229.45" x2="606.2" y2="229.45" stroke="#800080" stroke-width="2.6" stroke-dasharray="3.2 1.7 6.1 1.7"/>
<g style="font-family:'Liberation Serif',serif;filter:grayscale(1);text-rendering:geometricPrecision" font-size="19" fill="#000">
<text x="610.2" y="40.3">z</text>
<text x="623.7" y="42.199999999999996" font-size="22">=</text>
<text x="640.9" y="40.3">4</text>
<text x="610.2" y="78.4">z</text>
<text x="623.7" y="80.30000000000001" font-size="22">=</text>
<text x="640.9" y="78.4">3</text>
<text x="610.2" y="116.4">z</text>
<text x="623.7" y="118.30000000000001" font-size="22">=</text>
<text x="640.9" y="116.4">2</text>
<text x="610.2" y="154.5">z</text>
<text x="623.7" y="156.4" font-size="22">=</text>
<text x="641.2" y="154.5">1.3</text>
<text x="610.2" y="192.5">z</text>
<text x="623.7" y="194.4" font-size="22">=</text>
<text x="641.2" y="192.5">1.1</text>
<text x="610.2" y="230.6">z</text>
<text x="623.7" y="232.5" font-size="22">=</text>
<text x="641.2" y="230.6">1</text>
<text x="39.6" y="395.9" text-anchor="end" font-size="20.5">−</text>
<text x="41.4" y="394.4">6</text>
<text x="103.6" y="395.9" text-anchor="end" font-size="20.5">−</text>
<text x="105.4" y="394.4">5</text>
<text x="167.6" y="395.9" text-anchor="end" font-size="20.5">−</text>
<text x="169.4" y="394.4">4</text>
<text x="231.6" y="395.9" text-anchor="end" font-size="20.5">−</text>
<text x="233.4" y="394.4">3</text>
<text x="295.6" y="395.9" text-anchor="end" font-size="20.5">−</text>
<text x="297.4" y="394.4">2</text>
<text x="359.6" y="395.9" text-anchor="end" font-size="20.5">−</text>
<text x="361.4" y="394.4">1</text>
<text x="423.8" y="394.4" text-anchor="middle">0</text>
<text x="487.8" y="394.4" text-anchor="middle">1</text>
<text x="421.2" y="87.0" text-anchor="end">1.0</text>
<text x="421.2" y="157.1" text-anchor="end">0.5</text>
<text x="421.2" y="227.2" text-anchor="end">0.0</text>
<text x="421.2" y="297.4" text-anchor="end">0.5</text>
<text x="394.5" y="299.3" text-anchor="end" font-size="20.5">−</text>
<text x="421.2" y="367.6" text-anchor="end">1.0</text>
<text x="394.5" y="369.4" text-anchor="end" font-size="20.5">−</text>
<text x="528" y="380.2">log</text><text x="553.2" y="385.8" font-size="13.6">10</text><text x="566.7" y="380.2" letter-spacing="0.3">(T)</text>
<text x="384.4" y="54.7">log</text><text x="409.2" y="59.1" font-size="14">10</text><text x="423.4" y="54.7" letter-spacing="0.25">(c/T)</text>
</g>
</svg>
</body></html>
